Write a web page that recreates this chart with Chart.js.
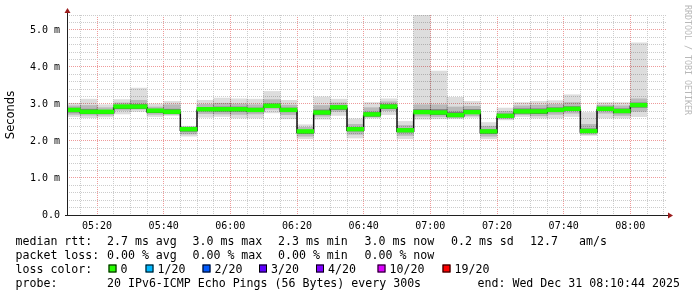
<!DOCTYPE html>
<html>
<head>
<meta charset="utf-8">
<script src="https://cdn.jsdelivr.net/npm/chart.js@4.4.1/dist/chart.umd.min.js"></script>
<style>
  html, body { margin: 0; padding: 0; background: #fff; }
  #wrap { width: 697px; height: 297px; }
</style>
</head>
<body>
<div id="wrap"><canvas id="ch" width="697" height="297"></canvas></div>
<script>
// rrd step end times (5 min steps)
var stamps = ['05:15','05:20','05:25','05:30','05:35','05:40','05:45','05:50','05:55','06:00',
              '06:05','06:10','06:15','06:20','06:25','06:30','06:35','06:40','06:45','06:50',
              '06:55','07:00','07:05','07:10','07:15','07:20','07:25','07:30','07:35','07:40',
              '07:45','07:50','07:55','08:00','08:05'];

// median rtt, ms
var median = [2.84,2.79,2.79,2.93,2.93,2.82,2.79,2.32,2.86,2.86,
              2.86,2.84,2.95,2.84,2.26,2.77,2.91,2.32,2.72,2.93,
              2.29,2.78,2.77,2.70,2.78,2.26,2.68,2.80,2.80,2.84,
              2.87,2.27,2.87,2.81,2.97];

// smoke, outer (fastest / slowest ping)
var smokeLo = [2.66,2.63,2.65,2.73,2.80,2.66,2.69,2.13,2.64,2.66,
               2.62,2.62,2.76,2.60,2.06,2.59,2.69,2.08,2.62,2.71,
               2.06,2.59,2.60,2.60,2.64,2.06,2.57,2.66,2.62,2.62,
               2.66,2.15,2.62,2.62,2.66];
var smokeHi = [3.02,3.13,2.98,3.12,3.43,3.00,3.07,2.40,3.10,3.16,
               3.14,3.13,3.34,3.10,2.44,3.19,3.13,2.60,3.04,3.14,
               2.53,5.40,3.89,3.18,3.07,2.50,2.89,3.04,3.07,3.09,
               3.25,2.77,3.04,3.04,4.65];

// smoke, middle band
var midLo = [2.72,2.70,2.70,2.83,2.86,2.72,2.72,2.19,2.74,2.73,
             2.72,2.73,2.86,2.71,2.13,2.67,2.80,2.18,2.65,2.82,
             2.15,2.67,2.66,2.63,2.68,2.13,2.60,2.71,2.68,2.72,
             2.75,2.18,2.75,2.69,2.80];
var midHi = [2.95,2.96,2.90,3.03,3.10,2.92,2.98,2.38,2.99,3.02,
             3.00,2.98,3.12,2.97,2.37,2.96,3.03,2.45,2.90,3.06,
             2.42,2.98,2.98,2.92,2.94,2.40,2.80,2.95,2.97,2.99,
             3.04,2.45,2.97,2.95,3.14];

// smoke, core around the median
var coreLo = [2.78,2.74,2.74,2.89,2.90,2.77,2.75,2.26,2.81,2.80,
              2.80,2.79,2.91,2.79,2.21,2.73,2.86,2.27,2.69,2.89,
              2.24,2.74,2.72,2.67,2.74,2.21,2.65,2.76,2.74,2.79,
              2.82,2.24,2.82,2.76,2.91];
var coreHi = [2.89,2.86,2.83,2.97,2.99,2.86,2.86,2.35,2.91,2.92,
              2.92,2.89,3.00,2.89,2.29,2.84,2.96,2.37,2.78,2.99,
              2.34,2.85,2.85,2.78,2.85,2.31,2.73,2.87,2.87,2.90,
              2.93,2.33,2.92,2.87,3.03];

var timeLabels = ['05:20','05:40','06:00','06:20','06:40','07:00','07:20','07:40','08:00'];
var yLabels = ['0.0','1.0 m','2.0 m','3.0 m','4.0 m','5.0 m'];

var rttRow = ['median rtt:','2.7 ms avg','3.0 ms max','2.3 ms min','3.0 ms now','0.2 ms sd','12.7','am/s'];
var lossRow = ['packet loss:','0.00 % avg','0.00 % max','0.00 % min','0.00 % now'];
var lossLabels = ['0','1/20','2/20','3/20','4/20','10/20','19/20'];
var lossColors = ['#26ff00','#00b8ff','#0059ff','#5e00ff','#7e00ff','#dd00ff','#ff0000'];
var probeRow = ['probe:','20 IPv6-ICMP Echo Pings (56 Bytes) every 300s'];
var endText = 'end: Wed Dec 31 08:10:44 2025';
var watermark = 'RRDTOOL / TOBI OETIKER';

function toMin(s){
    var p = s.split(':');
    return (+p[0] - 5) * 60 + (+p[1]);
}

var step = 5;
var outer = [], mid = [], core = [], green = [], stepLine = [];
for (var i = 0; i < stamps.length; i++) {
    var c = toMin(stamps[i]) - step / 2;
    outer.push({x: c, y: [smokeLo[i], smokeHi[i]]});
    mid.push({x: c, y: [midLo[i], midHi[i]]});
    core.push({x: c, y: [coreLo[i], coreHi[i]]});
    green.push({x: c, y: [median[i] - 0.05, median[i] + 0.05]});
    stepLine.push({x: toMin(stamps[i]) - step, y: median[i] - 0.03});
}
stepLine.push({x: toMin(stamps[stamps.length-1]), y: median[median.length-1] - 0.03});

var mono = '"DejaVu Sans Mono", monospace';

var extras = {
    id: 'extras',
    beforeDraw: function(chart){
        var ctx = chart.ctx;
        ctx.save();
        ctx.fillStyle = '#ffffff';
        ctx.fillRect(0, 0, chart.width, chart.height);
        ctx.restore();
    },
    afterDraw: function(chart){
        var ctx = chart.ctx;
        var a = chart.chartArea;
        ctx.save();

        // axes with arrows
        ctx.strokeStyle = '#202020';
        ctx.lineWidth = 1;
        ctx.beginPath();
        ctx.moveTo(a.left + 0.5, a.bottom + 1);
        ctx.lineTo(a.left + 0.5, a.top - 3);
        ctx.moveTo(a.left - 2, a.bottom + 0.5);
        ctx.lineTo(a.right + 2, a.bottom + 0.5);
        ctx.stroke();
        ctx.fillStyle = '#9b1c1c';
        ctx.beginPath();
        ctx.moveTo(a.left + 0.5, a.top - 7);
        ctx.lineTo(a.left - 2.5, a.top - 2);
        ctx.lineTo(a.left + 3.5, a.top - 2);
        ctx.closePath();
        ctx.fill();
        ctx.beginPath();
        ctx.moveTo(a.right + 6, a.bottom + 0.5);
        ctx.lineTo(a.right + 1, a.bottom - 2.5);
        ctx.lineTo(a.right + 1, a.bottom + 3.5);
        ctx.closePath();
        ctx.fill();

        // watermark
        ctx.save();
        ctx.translate(687, 5);
        ctx.rotate(Math.PI / 2);
        ctx.font = '8.3px ' + mono;
        ctx.fillStyle = '#b8b8b8';
        ctx.textBaseline = 'middle';
        ctx.textAlign = 'left';
        ctx.fillText(watermark, 0, 0);
        ctx.restore();

        // legend
        ctx.font = '11.6px ' + mono;
        ctx.fillStyle = '#000';
        ctx.textBaseline = 'alphabetic';
        ctx.textAlign = 'left';
        var cols = [15.5, 107, 192.5, 278, 364.5, 451, 530, 579];
        rttRow.forEach(function(t, k){ ctx.fillText(t, cols[k], 244.5); });
        lossRow.forEach(function(t, k){ ctx.fillText(t, cols[k], 258.5); });
        ctx.fillText('loss color:', cols[0], 272.5);
        var boxX = [108.5, 145.5, 202.5, 259, 316, 377.5, 442.5];
        lossLabels.forEach(function(t, k){
            ctx.fillStyle = lossColors[k];
            ctx.fillRect(boxX[k], 264.5, 8, 8);
            ctx.strokeStyle = '#000';
            ctx.strokeRect(boxX[k] + 0.5, 265, 7, 7);
            ctx.fillStyle = '#000';
            ctx.fillText(t, boxX[k] + 12, 272.5);
        });
        ctx.fillText(probeRow[0], cols[0], 286.5);
        ctx.fillText(probeRow[1], cols[1], 286.5);
        ctx.fillText(endText, 477.5, 286.5);

        ctx.restore();
    }
};

new Chart(document.getElementById('ch'), {
    type: 'bar',
    data: {
        datasets: [
            {data: outer, backgroundColor: 'rgba(0,0,0,0.135)', borderWidth: 0, order: 6},
            {data: mid, backgroundColor: 'rgba(0,0,0,0.16)', borderWidth: 0, order: 5},
            {data: core, backgroundColor: 'rgba(0,0,0,0.33)', borderWidth: 0, order: 4},
            {type: 'line', data: stepLine, stepped: true, borderColor: '#111', borderWidth: 1.5,
             pointRadius: 0, fill: false, order: 2},
            {data: green, backgroundColor: '#20ff00', borderWidth: 0, order: 1}
        ]
    },
    options: {
        responsive: false,
        animation: false,
        events: [],
        grouped: false,
        barPercentage: 1,
        categoryPercentage: 1,
        layout: {padding: {left: 0, right: 30, top: 15, bottom: 0}},
        plugins: {legend: {display: false}, tooltip: {enabled: false}},
        scales: {
            x: {
                type: 'linear',
                min: 11,
                max: 191,
                offset: false,
                afterBuildTicks: function(scale){
                    var t = [];
                    for (var v = 15; v <= 190; v += 5) t.push({value: v});
                    scale.ticks = t;
                },
                afterFit: function(scale){ scale.height = 82; },
                grid: {
                    offset: false,
                    drawTicks: false,
                    color: function(c){ return c.tick && c.tick.value % 20 === 0 ? '#ee9a9a' : '#cccccc'; }
                },
                border: {display: false, dash: [1, 1]},
                ticks: {
                    autoSkip: false,
                    maxRotation: 0,
                    padding: 5,
                    color: '#000',
                    font: {family: mono, size: 10},
                    callback: function(v){ return v % 20 === 0 ? timeLabels[v / 20 - 1] : ''; }
                }
            },
            y: {
                min: 0,
                max: 5.405,
                afterBuildTicks: function(scale){
                    var t = [];
                    for (var k = 0; k <= 27; k++) t.push({value: k / 5});
                    scale.ticks = t;
                },
                afterFit: function(scale){ scale.width = 67; },
                grid: {
                    drawTicks: false,
                    color: function(c){ return c.tick && Number.isInteger(c.tick.value) ? '#ee9a9a' : '#cccccc'; }
                },
                border: {display: false, dash: [1, 1]},
                ticks: {
                    autoSkip: false,
                    padding: 7,
                    color: '#000',
                    font: {family: mono, size: 10},
                    callback: function(v){ return Number.isInteger(v) ? yLabels[v] : ''; }
                },
                title: {
                    display: true,
                    text: 'Seconds',
                    color: '#000',
                    font: {family: '"DejaVu Sans", sans-serif', size: 11.5},
                    padding: {top: 4, bottom: 0}
                }
            }
        }
    },
    plugins: [extras]
});
</script>
</body>
</html>
